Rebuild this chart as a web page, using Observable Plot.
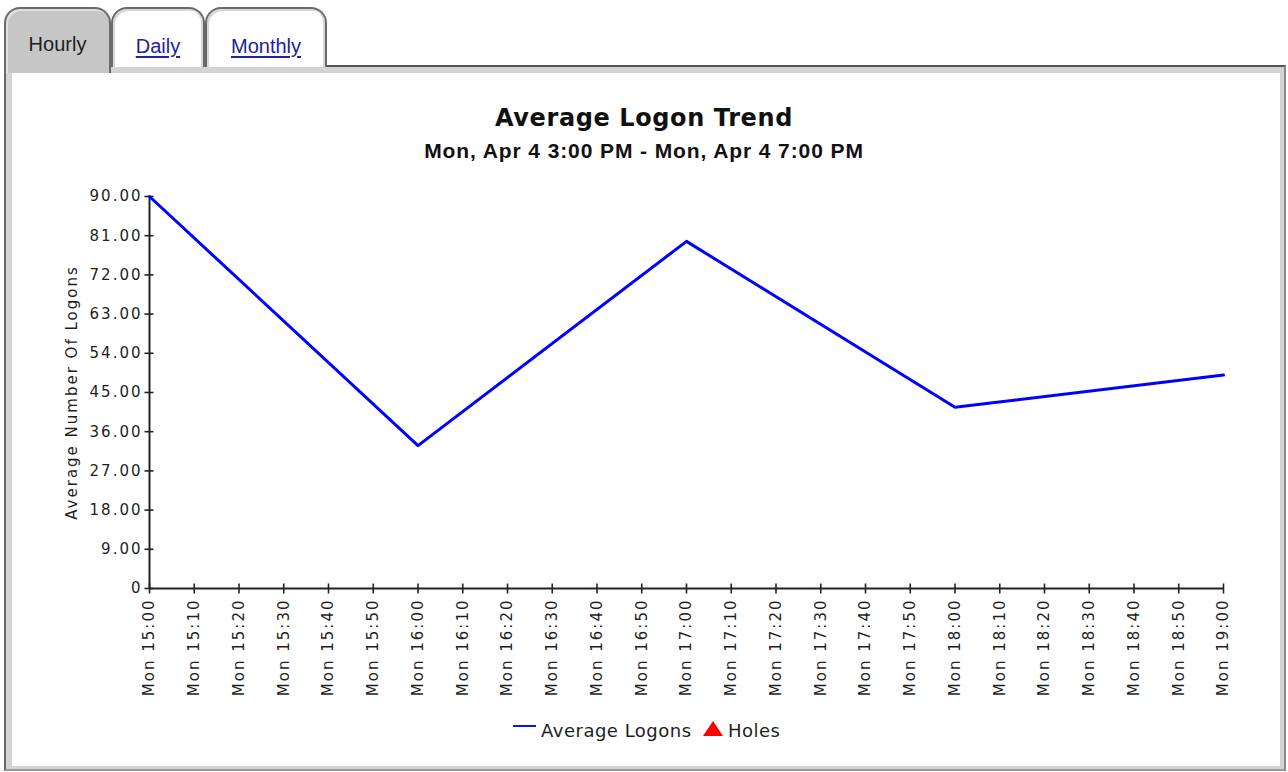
<!DOCTYPE html>
<html>
<head>
<meta charset="utf-8">
<script src="https://cdn.jsdelivr.net/npm/d3@7"></script>
<script src="https://cdn.jsdelivr.net/npm/@observablehq/plot@0.6"></script>
<style>
  html, body { margin:0; padding:0; background:#fff; width:1288px; height:772px; overflow:hidden; }
  body { position:relative; font-family:"Liberation Sans", Arial, sans-serif; }
  .tab { position:absolute; top:7px; height:60px; box-sizing:border-box; border:2px solid #6a6a6a; border-bottom:none;
         border-radius:16px 16px 0 0; background:#fff; box-shadow: inset 2px 2px 0 #d8d8d8, inset -2px 0 0 #d8d8d8; }
  .tab span { position:absolute; left:0; right:0; text-align:center; font-size:20px; line-height:20px; white-space:nowrap; }
  #t1 { left:4px; width:107px; height:66px; background:#c6c6c6; z-index:3; box-shadow: inset 2px 2px 0 #e0e0e0; }
  #t1 span { top:25px; color:#1e1e1e; }
  #t2 { left:111px; width:94px; z-index:2; }
  #t3 { left:205px; width:122px; z-index:2; }
  #t2 span, #t3 span { top:27px; color:#22229a; text-decoration:underline; text-underline-offset:3px; }
  #panel { position:absolute; left:4px; top:65px; width:1282px; height:706px; box-sizing:border-box;
           border-top:2px solid #555; border-left:2px solid #666; border-right:2px solid #8a8a8a; border-bottom:2px solid #9a9a9a;
           background:#fff; box-shadow: inset 6px 6px 0 #d4d4d4, inset -4px -3px 0 #d4d4d4; z-index:1; }
  #title { position:absolute; left:0; width:1288px; top:104px; text-align:center; font-family:"DejaVu Sans", sans-serif;
           font-weight:bold; font-size:24px; line-height:28px; letter-spacing:0.6px; color:#111; z-index:4; }
  #subtitle { position:absolute; left:0; width:1288px; top:139px; text-align:center; font-family:"Liberation Sans", Arial, sans-serif;
           font-weight:bold; font-size:21px; line-height:24px; letter-spacing:0.9px; color:#111; z-index:4; }
  #chart { position:absolute; left:0; top:180px; z-index:4; }
  #chart svg text { letter-spacing:2px; }
  #chart svg text.ytitle { letter-spacing:2.4px; }
  .leg { position:absolute; z-index:4; font-family:"DejaVu Sans", sans-serif; font-size:18px; line-height:21px; letter-spacing:0.5px; color:#1e1e1e; white-space:nowrap; }
  #legline { position:absolute; z-index:4; left:513px; top:725px; width:23px; height:2px; background:#1010ff; }
  #legtri { position:absolute; z-index:4; left:703px; top:721px; width:0; height:0;
            border-left:10px solid transparent; border-right:10px solid transparent; border-bottom:15px solid #ff0000; }
</style>
</head>
<body>
<div class="tab" id="t1"><span>Hourly</span></div>
<div class="tab" id="t2"><span>Daily</span></div>
<div class="tab" id="t3"><span>Monthly</span></div>
<div id="panel"></div>
<div id="title"></div>
<div id="subtitle"></div>
<div id="chart"></div>
<div id="legline"></div>
<div class="leg" id="leg1" style="left:541px; top:720px;"></div>
<div id="legtri"></div>
<div class="leg" id="leg2" style="left:728px; top:720px;"></div>
<script>
// ---- data ----
const tabNames = ["Hourly", "Daily", "Monthly"];
const chartTitle = "Average Logon Trend";
const chartSubtitle = "Mon, Apr 4 3:00 PM - Mon, Apr 4 7:00 PM";
const yAxisTitle = "Average Number Of Logons";
const seriesNames = ["Average Logons", "Holes"];
const times = ["15:00", "16:00", "17:00", "18:00", "19:00"];
const values = [90.0, 32.8, 79.7, 41.6, 49.0];
const yTicks = [0, 9, 18, 27, 36, 45, 54, 63, 72, 81, 90];
const xTickTimes = ["15:00","15:10","15:20","15:30","15:40","15:50",
                    "16:00","16:10","16:20","16:30","16:40","16:50",
                    "17:00","17:10","17:20","17:30","17:40","17:50",
                    "18:00","18:10","18:20","18:30","18:40","18:50","19:00"];

document.getElementById("title").textContent = chartTitle;
document.getElementById("subtitle").textContent = chartSubtitle;
document.getElementById("leg1").textContent = seriesNames[0];
document.getElementById("leg2").textContent = seriesNames[1];

const toDate = s => { const [h, m] = s.split(":").map(Number); return new Date(Date.UTC(2011, 3, 4, h, m)); };
const data = times.map((t, i) => ({time: toDate(t), value: values[i]}));
const xTicks = xTickTimes.map(toDate);
const fmtX = d3.utcFormat("%a %H:%M");
const fmtY = d => d === 0 ? "0" : d.toFixed(2);

// tick marks that cross the axis line
const vTick = {draw(ctx) { ctx.moveTo(0, -5); ctx.lineTo(0, 5); }};
const hTick = {draw(ctx) { ctx.moveTo(-5, 0); ctx.lineTo(4, 0); }};

const chart = Plot.plot({
  width: 1288,
  height: 530,
  marginLeft: 149,
  marginRight: 65,
  marginTop: 16,
  marginBottom: 122,
  style: {fontFamily: "DejaVu Sans, sans-serif", fontSize: "15px", color: "#1e1e1e", background: "transparent", overflow: "visible"},
  x: {type: "utc", domain: [xTicks[0], xTicks[xTicks.length - 1]]},
  y: {domain: [0, 90]},
  marks: [
    Plot.axisY({ticks: yTicks, tickSize: 0, tickPadding: 7, tickFormat: fmtY, label: null}),
    Plot.axisX({ticks: xTicks, tickSize: 0, tickPadding: 10, tickRotate: -90, tickFormat: fmtX, label: null}),
    Plot.dot(yTicks, {x: () => xTicks[0], y: d => d, symbol: hTick, stroke: "#222", strokeWidth: 1.6, fill: "none"}),
    Plot.dot(xTicks, {x: d => d, y: () => 0, symbol: vTick, stroke: "#222", strokeWidth: 1.6, fill: "none"}),
    Plot.ruleY([0], {stroke: "#222", strokeWidth: 2}),
    Plot.ruleX([xTicks[0]], {stroke: "#222", strokeWidth: 2}),
    Plot.text([yAxisTitle], {frameAnchor: "left", textAnchor: "middle", dx: -77, rotate: -90, fontSize: 15, fill: "#1e1e1e", className: "ytitle"}),
    Plot.line(data, {x: "time", y: "value", stroke: "#0000ff", strokeWidth: 3})
  ]
});
document.getElementById("chart").appendChild(chart);
</script>
</body>
</html>
